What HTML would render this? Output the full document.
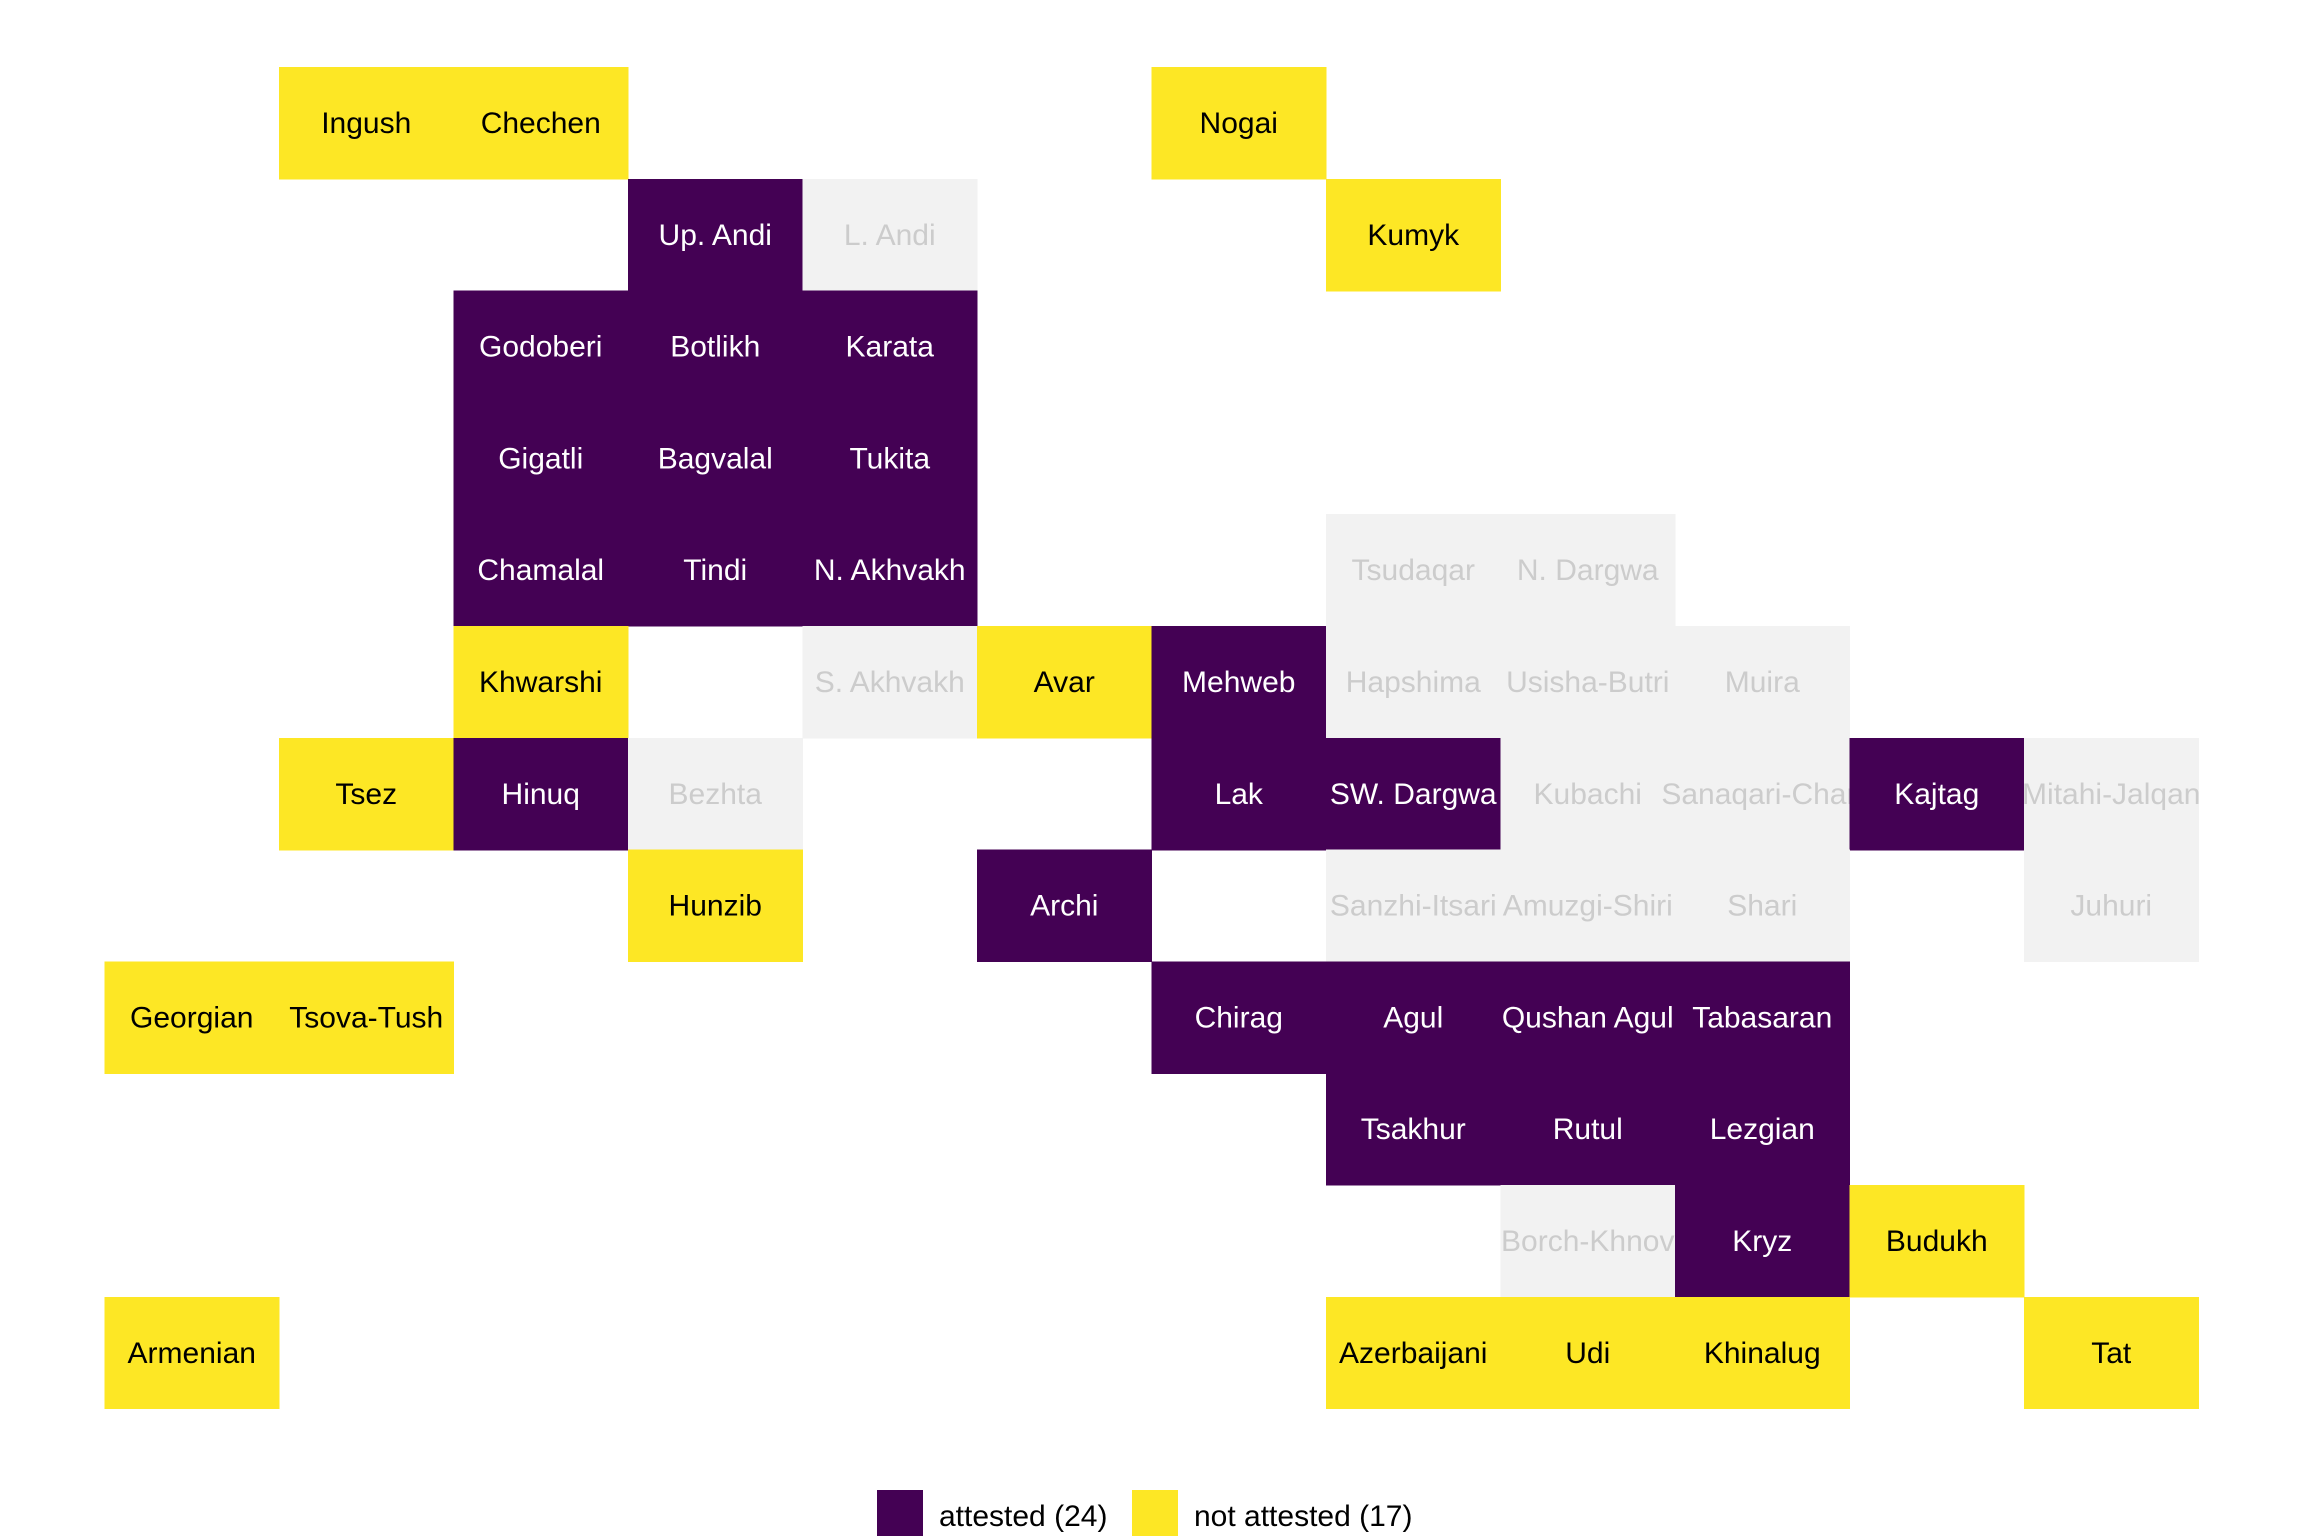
<!DOCTYPE html>
<html><head><meta charset="utf-8"><style>
html,body{margin:0;padding:0;background:#fff;}
svg{display:block;}
text{font-family:"Liberation Sans",Arial,sans-serif;font-size:30px;text-anchor:middle;}
.P rect{fill:#440154}.P text{fill:#fff}
.Y rect{fill:#FDE725}.Y text{fill:#000}
.G rect{fill:#F2F2F2}.G text{fill:#CCCCCC}
</style></head><body>
<svg width="2304" height="1536" viewBox="0 0 2304 1536" shape-rendering="crispEdges">
<!-- row0 -->
<g class="Y" transform="translate(279,67)"><rect width="175" height="112.5"/><text x="87.25" y="66">Ingush</text></g>
<g class="Y" transform="translate(453.5,67)"><rect width="175" height="112.5"/><text x="87.25" y="66">Chechen</text></g>
<g class="Y" transform="translate(1151.5,67)"><rect width="175" height="112.5"/><text x="87.25" y="66">Nogai</text></g>
<!-- row1 -->
<g class="P" transform="translate(628,178.8)"><rect width="175" height="112.5"/><text x="87.25" y="66">Up. Andi</text></g>
<g class="G" transform="translate(802.5,178.8)"><rect width="175" height="112.5"/><text x="87.25" y="66">L. Andi</text></g>
<g class="Y" transform="translate(1326,178.8)"><rect width="175" height="112.5"/><text x="87.25" y="66">Kumyk</text></g>
<!-- row2 -->
<g class="P" transform="translate(453.5,290.6)"><rect width="175" height="112.5"/><text x="87.25" y="66">Godoberi</text></g>
<g class="P" transform="translate(628,290.6)"><rect width="175" height="112.5"/><text x="87.25" y="66">Botlikh</text></g>
<g class="P" transform="translate(802.5,290.6)"><rect width="175" height="112.5"/><text x="87.25" y="66">Karata</text></g>
<!-- row3 -->
<g class="P" transform="translate(453.5,402.4)"><rect width="175" height="112.5"/><text x="87.25" y="66">Gigatli</text></g>
<g class="P" transform="translate(628,402.4)"><rect width="175" height="112.5"/><text x="87.25" y="66">Bagvalal</text></g>
<g class="P" transform="translate(802.5,402.4)"><rect width="175" height="112.5"/><text x="87.25" y="66">Tukita</text></g>
<!-- row4 -->
<g class="P" transform="translate(453.5,514.2)"><rect width="175" height="112.5"/><text x="87.25" y="66">Chamalal</text></g>
<g class="P" transform="translate(628,514.2)"><rect width="175" height="112.5"/><text x="87.25" y="66">Tindi</text></g>
<g class="P" transform="translate(802.5,514.2)"><rect width="175" height="112.5"/><text x="87.25" y="66">N. Akhvakh</text></g>
<g class="G" transform="translate(1326,514.2)"><rect width="175" height="112.5"/><text x="87.25" y="66">Tsudaqar</text></g>
<g class="G" transform="translate(1500.5,514.2)"><rect width="175" height="112.5"/><text x="87.25" y="66">N. Dargwa</text></g>
<!-- row5 -->
<g class="Y" transform="translate(453.5,626)"><rect width="175" height="112.5"/><text x="87.25" y="66">Khwarshi</text></g>
<g class="G" transform="translate(802.5,626)"><rect width="175" height="112.5"/><text x="87.25" y="66">S. Akhvakh</text></g>
<g class="Y" transform="translate(977,626)"><rect width="175" height="112.5"/><text x="87.25" y="66">Avar</text></g>
<g class="P" transform="translate(1151.5,626)"><rect width="175" height="112.5"/><text x="87.25" y="66">Mehweb</text></g>
<g class="G" transform="translate(1326,626)"><rect width="175" height="112.5"/><text x="87.25" y="66">Hapshima</text></g>
<g class="G" transform="translate(1500.5,626)"><rect width="175" height="112.5"/><text x="87.25" y="66">Usisha-Butri</text></g>
<g class="G" transform="translate(1675,626)"><rect width="175" height="112.5"/><text x="87.25" y="66">Muira</text></g>
<!-- row6 -->
<g class="Y" transform="translate(279,737.8)"><rect width="175" height="112.5"/><text x="87.25" y="66">Tsez</text></g>
<g class="P" transform="translate(453.5,737.8)"><rect width="175" height="112.5"/><text x="87.25" y="66">Hinuq</text></g>
<g class="G" transform="translate(628,737.8)"><rect width="175" height="112.5"/><text x="87.25" y="66">Bezhta</text></g>
<g class="P" transform="translate(1151.5,737.8)"><rect width="175" height="112.5"/><text x="87.25" y="66">Lak</text></g>
<g class="P" transform="translate(1326,737.8)"><rect width="175" height="112.5"/><text x="87.25" y="66">SW. Dargwa</text></g>
<g class="G" transform="translate(1500.5,737.8)"><rect width="175" height="112.5"/><text x="87.25" y="66">Kubachi</text></g>
<g class="G" transform="translate(1675,737.8)"><rect width="175" height="112.5"/><text x="87.25" y="66">Sanaqari-Chan</text></g>
<g class="P" transform="translate(1849.5,737.8)"><rect width="175" height="112.5"/><text x="87.25" y="66">Kajtag</text></g>
<g class="G" transform="translate(2024,737.8)"><rect width="175" height="112.5"/><text x="87.25" y="66">Mitahi-Jalqan</text></g>
<!-- row7 -->
<g class="Y" transform="translate(628,849.6)"><rect width="175" height="112.5"/><text x="87.25" y="66">Hunzib</text></g>
<g class="P" transform="translate(977,849.6)"><rect width="175" height="112.5"/><text x="87.25" y="66">Archi</text></g>
<g class="G" transform="translate(1326,849.6)"><rect width="175" height="112.5"/><text x="87.25" y="66">Sanzhi-Itsari</text></g>
<g class="G" transform="translate(1500.5,849.6)"><rect width="175" height="112.5"/><text x="87.25" y="66">Amuzgi-Shiri</text></g>
<g class="G" transform="translate(1675,849.6)"><rect width="175" height="112.5"/><text x="87.25" y="66">Shari</text></g>
<g class="G" transform="translate(2024,849.6)"><rect width="175" height="112.5"/><text x="87.25" y="66">Juhuri</text></g>
<!-- row8 -->
<g class="Y" transform="translate(104.5,961.4)"><rect width="175" height="112.5"/><text x="87.25" y="66">Georgian</text></g>
<g class="Y" transform="translate(279,961.4)"><rect width="175" height="112.5"/><text x="87.25" y="66">Tsova-Tush</text></g>
<g class="P" transform="translate(1151.5,961.4)"><rect width="175" height="112.5"/><text x="87.25" y="66">Chirag</text></g>
<g class="P" transform="translate(1326,961.4)"><rect width="175" height="112.5"/><text x="87.25" y="66">Agul</text></g>
<g class="P" transform="translate(1500.5,961.4)"><rect width="175" height="112.5"/><text x="87.25" y="66">Qushan Agul</text></g>
<g class="P" transform="translate(1675,961.4)"><rect width="175" height="112.5"/><text x="87.25" y="66">Tabasaran</text></g>
<!-- row9 -->
<g class="P" transform="translate(1326,1073.2)"><rect width="175" height="112.5"/><text x="87.25" y="66">Tsakhur</text></g>
<g class="P" transform="translate(1500.5,1073.2)"><rect width="175" height="112.5"/><text x="87.25" y="66">Rutul</text></g>
<g class="P" transform="translate(1675,1073.2)"><rect width="175" height="112.5"/><text x="87.25" y="66">Lezgian</text></g>
<!-- row10 -->
<g class="G" transform="translate(1500.5,1185)"><rect width="175" height="112.5"/><text x="87.25" y="66">Borch-Khnov</text></g>
<g class="P" transform="translate(1675,1185)"><rect width="175" height="112.5"/><text x="87.25" y="66">Kryz</text></g>
<g class="Y" transform="translate(1849.5,1185)"><rect width="175" height="112.5"/><text x="87.25" y="66">Budukh</text></g>
<!-- row11 -->
<g class="Y" transform="translate(104.5,1296.8)"><rect width="175" height="112"/><text x="87.25" y="66">Armenian</text></g>
<g class="Y" transform="translate(1326,1296.8)"><rect width="175" height="112"/><text x="87.25" y="66">Azerbaijani</text></g>
<g class="Y" transform="translate(1500.5,1296.8)"><rect width="175" height="112"/><text x="87.25" y="66">Udi</text></g>
<g class="Y" transform="translate(1675,1296.8)"><rect width="175" height="112"/><text x="87.25" y="66">Khinalug</text></g>
<g class="Y" transform="translate(2024,1296.8)"><rect width="175" height="112"/><text x="87.25" y="66">Tat</text></g>
<!-- legend -->
<rect x="877" y="1490" width="46" height="46" fill="#440154"/>
<text x="939" y="1526" style="text-anchor:start">attested (24)</text>
<rect x="1132" y="1490" width="46" height="46" fill="#FDE725"/>
<text x="1194" y="1526" style="text-anchor:start">not attested (17)</text>
</svg>
</body></html>
